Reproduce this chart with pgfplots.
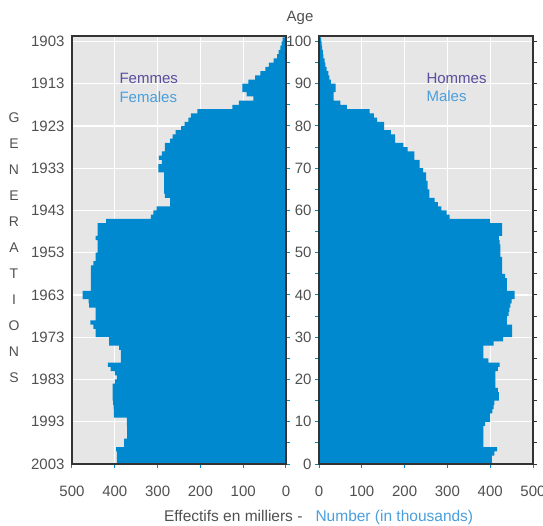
\documentclass[border=0pt]{standalone}
\usepackage{pgfplots}
\usepackage{pgfplotstable}
\pgfplotsset{compat=1.18}
\usepackage{fontspec}
\setmainfont{Liberation Sans}

\definecolor{popblue}{HTML}{0089CF}
\definecolor{bggray}{HTML}{E6E6E6}
\definecolor{framec}{HTML}{333333}
\definecolor{txtgray}{HTML}{505050}
\definecolor{femc}{HTML}{5A4E9E}
\definecolor{ltblue}{HTML}{4A9EDC}

% population on 1 Jan 2003, thousands; last three rows close the outline
\pgfplotstableread{
age f m
0 395 404
1 395 404
2 395 410
3 397 416
4 378 384
5 378 384
6 371 384
7 371 384
8 371 384
9 372 388
10 372 400
11 402 400
12 402 405
13 403 408
14 404 410
15 405 420
16 405 420
17 405 418
18 405 412
19 400 412
20 395 412
21 400 412
22 410 418
23 416 422
24 386 396
25 386 384
26 386 384
27 390 384
28 413 408
29 413 430
30 445 451
31 445 451
32 450 451
33 457 439
34 445 439
35 445 443
36 445 445
37 460 447
38 461 450
39 475 457
40 475 457
41 456 439
42 456 439
43 456 439
44 456 435
45 456 428
46 456 428
47 450 428
48 445 428
49 445 424
50 440 424
51 440 424
52 440 422
53 445 420
54 440 428
55 440 428
56 440 428
57 420 400
58 316 305
59 310 298
60 302 286
61 271 278
62 271 270
63 283 258
64 285 258
65 285 254
66 285 254
67 285 250
68 285 250
69 298 243
70 298 235
71 290 235
72 297 223
73 290 223
74 283 207
75 283 197
76 271 178
77 265 178
78 258 168
79 245 152
80 237 152
81 228 136
82 222 128
83 207 118
84 125 65
85 110 50
86 76 34
87 92 34
88 102 39
89 102 39
90 88 28
91 72 24
92 60 22
93 48 18
94 40 15
95 29 13
96 21 10
97 17 9
98 13 7
99 10 6
100 8 5
101 8 5
101 0 0
0 0 0
}\pyramid

\pgfplotsset{
  pyr/.style={
    scale only axis, width=214pt, height=428pt,
    xmin=0, xmax=500, ymin=0, ymax=101.3,
    axis background/.style={fill=bggray},
    axis line style={draw=none},
    grid=major, major grid style={white, line width=1.3pt},
    xtick={0,100,...,500}, ytick={0,10,...,100}, minor ytick={5,15,...,95},
    tick align=outside, major tick length=4pt, minor tick length=4pt,
    tick style={popblue, line width=1pt}, minor tick style={popblue, line width=1pt},
    xtick pos=bottom,
    tick label style={font=\fontsize{15}{18}\selectfont, text=txtgray},
    /pgf/number format/assume math mode=true,
    xticklabel style={yshift=-14pt},
  },
}

\begin{document}
\begin{tikzpicture}[x=1pt, y=1pt]
\useasboundingbox (0,0) rectangle (543,525);

% women
\begin{axis}[pyr, at={(72pt,61pt)}, anchor=south west,
    x dir=reverse,
    ytick pos=right, yticklabel pos=left,
    yticklabels={2003,1993,1983,1973,1963,1953,1943,1933,1923,1913,1903},
  ]
  \addplot[fill=popblue, draw=none, const plot mark right] table[x=f, y=age] {\pyramid};
\end{axis}

% men
\begin{axis}[pyr, at={(319pt,61pt)}, anchor=south west,
    ytick pos=left, yticklabel pos=left,
    extra y ticks={0,5,...,100}, extra y tick labels={},
    extra y tick style={ytick pos=right, grid=none,
      tick style={framec, line width=1pt}},
  ]
  \addplot[fill=popblue, draw=none, const plot mark right] table[x=m, y=age] {\pyramid};
\end{axis}

\draw[framec, line width=1.2pt] (72,61) rectangle (286,489);
\draw[framec, line width=1.2pt] (319,61) rectangle (533,489);

\node[text=txtgray, font=\fontsize{15}{18}\selectfont] at (300,507) {Age};

\node[anchor=west, text=femc, font=\fontsize{15}{18}\selectfont] at (116,447) {Femmes};
\node[anchor=west, text=ltblue, font=\fontsize{15}{18}\selectfont] at (116,428) {Females};
\node[anchor=west, text=femc, font=\fontsize{15}{18}\selectfont] at (423,447) {Hommes};
\node[anchor=west, text=ltblue, font=\fontsize{15}{18}\selectfont] at (423,429) {Males};

\foreach \l [count=\i from 0] in {G,E,N,E,R,A,T,I,O,N,S}
  \node[text=txtgray, font=\fontsize{14}{16}\selectfont] at (14, 407-26*\i) {\l};

\node[anchor=base east, text=txtgray, font=\fontsize{15.5}{18}\selectfont] at (306,4) {Effectifs en milliers -};
\node[anchor=base west, text=ltblue, font=\fontsize{15.5}{18}\selectfont] at (312,4) {Number (in thousands)};
\end{tikzpicture}
\end{document}
